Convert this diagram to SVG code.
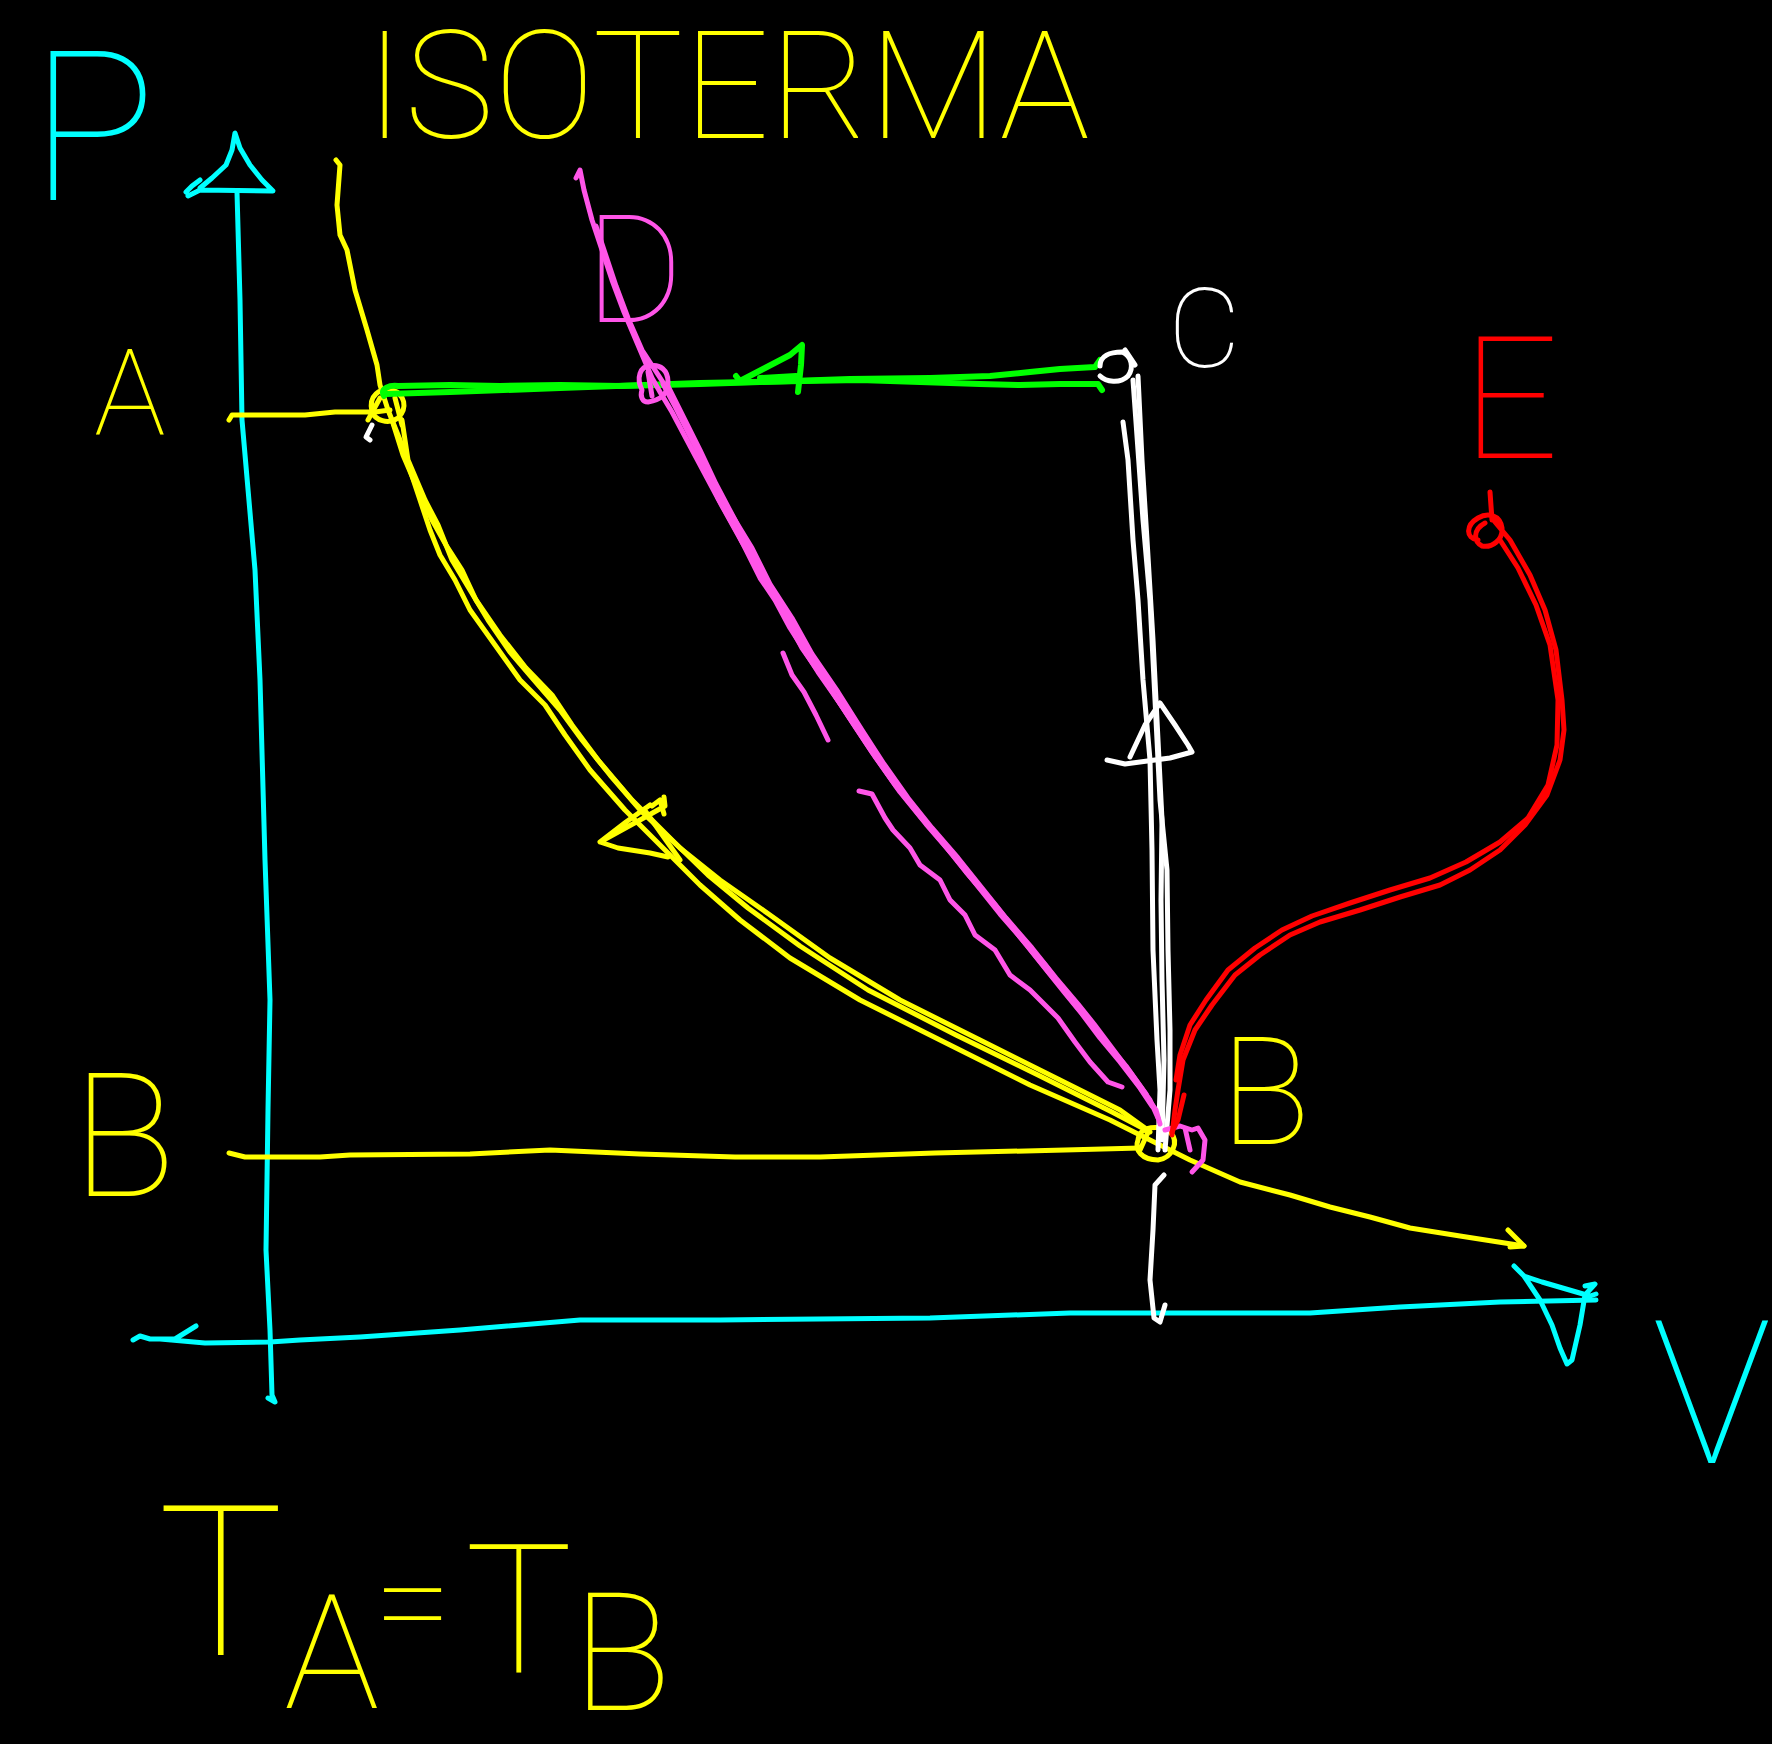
<svg xmlns="http://www.w3.org/2000/svg" width="1772" height="1744" viewBox="0 0 1772 1744">
<style>
.s{fill:none;stroke-linecap:round;stroke-linejoin:round;stroke-width:5}
.cy{stroke:#00ffff}.ye{stroke:#ffff00}.gr{stroke:#00ff00;stroke-width:6}.wh{stroke:#ffffff}.mg{stroke:#ff55e8}.rd{stroke:#ff0000}
.t{font-family:Roboto,"Open Sans","Liberation Sans",sans-serif;font-weight:100}
</style>
<rect width="1772" height="1744" fill="#000"/>
<g id="axes">
<path class="s cy" d="M237,192 L240,300 L242,420 L255,570 L260,680 L265,860 L270,1000 L268,1110 L266,1250 L270,1330 L272,1395 L275,1402 L268,1398"/>
<path class="s cy" d="M186,192 L192,186 L200,180 M188,196 L200,190 L273,191 L262,180 L250,165 L240,148 L235,133 L232,150 L226,165 L212,178 L200,188"/>
<path class="s cy" d="M133,1340 L140,1336 L150,1339 L175,1339 L196,1326 M160,1339 L205,1343 L270,1342 L300,1340 L360,1337 L460,1330 L580,1320 L720,1320 L930,1318 L1070,1313 L1310,1313 L1400,1307 L1500,1302 L1596,1300"/>
<path class="s cy" d="M1514,1266 L1524,1276 L1542,1282 L1590,1296 L1596,1294 M1524,1276 L1540,1300 L1552,1325 L1560,1348 L1567,1364 L1572,1360 L1580,1325 L1585,1295 L1595,1284 L1585,1286"/>
</g>
<g id="isotherm">
<path class="s ye" d="M336,160 L340,165 L337,205 L340,235 L347,250 L355,290 L367,330 L377,365 L380,385 L388,410 L400,440 L410,470 L420,500 L430,530 L440,555 L455,580 L470,610 L495,645 L520,680 L545,705 L565,735 L590,770 L625,810 L665,850 L700,885 L740,920 L790,958 L860,1000 L950,1045 L1030,1085 L1110,1120 L1150,1140 L1190,1160 L1240,1182 L1290,1195 L1330,1207 L1370,1217 L1410,1228 L1460,1236 L1524,1246"/>
<path class="s ye" d="M392,420 L403,455 L418,490 L432,520 L446,545 L462,570 L476,600 L500,635 L526,668 L552,695 L572,725 L598,760 L632,800 L672,840 L708,875 L748,908 L800,946 L868,990 L956,1035 L1038,1075 L1112,1112 L1150,1132"/>
<path class="s ye" d="M402,420 L408,460 L425,500 L438,525 L452,560 L470,590 L488,620 L510,652 L534,680 L560,710 L582,740 L610,775 L642,812 L680,848 L720,880 L770,915 L830,958 L900,1000 L980,1040 L1060,1080 L1120,1110 L1145,1128"/>
<path class="s ye" d="M1508,1230 L1524,1246 L1510,1247"/>
<path class="s ye" d="M650,805 L626,822 L600,842 L618,848 L650,853 L668,857 M600,842 L640,820 L665,806 L664,797 M652,806 L660,800 L664,814 M646,812 L680,860"/>
<path class="s ye" d="M372,412 C368,395 380,388 392,390 C405,394 408,408 398,418 C388,425 375,420 372,412 Z M380,398 L368,420 M395,398 L402,425"/>
<path class="s wh" d="M372,425 L366,437 L370,440"/>
<path class="s ye" d="M229,420 L232,415 L305,415 L335,412 L375,412 L390,410"/>
<path class="s ye" d="M229,1153 L245,1157 L320,1157 L350,1155 L470,1154 L550,1150 L640,1154 L735,1157 L820,1157 L935,1153 L1065,1150 L1140,1148"/>
<path class="s ye" d="M1138,1140 C1140,1125 1160,1125 1170,1132 C1180,1142 1172,1158 1158,1160 C1142,1160 1134,1150 1138,1140 Z M1150,1128 L1140,1150"/>
</g>
<g id="green">
<path class="s gr" d="M384,396 C380,388 390,385 398,386 L450,385 L500,386 L560,385 L620,386 L700,384 L760,382 L850,379 L930,378 L990,376 L1030,372 L1060,369 L1095,367 L1100,360"/>
<path class="s gr" d="M386,394 L450,392 L560,388 L700,383 L860,380 L980,384 L1020,385 L1060,384 L1098,384 L1102,390"/>
<path class="s gr" d="M740,381 L765,368 L790,355 L802,345 L801,365 L798,392 M740,381 L736,376 M760,378 L796,376"/>
</g>
<g id="white">
<path class="s wh" d="M1100,366 C1100,356 1110,352 1122,352 C1132,356 1134,368 1128,376 C1120,384 1106,382 1100,376"/>
<path class="s wh" d="M1125,350 L1135,365"/>
<path class="s wh" d="M1123,422 L1128,460 L1133,540 L1138,600 L1143,680 L1150,760 L1152,850 L1153,950 L1157,1040 L1160,1090 L1158,1150"/>
<path class="s wh" d="M1133,380 L1138,450 L1143,520 L1150,600 L1155,700 L1160,800 L1167,870 L1168,950 L1170,1030 L1170,1090 L1165,1150"/>
<path class="s wh" d="M1138,376 L1142,460 L1147,540 L1153,640 L1157,720 L1162,820 L1161,900 L1162,980 L1164,1060 L1162,1140"/>
<path class="s wh" d="M1130,757 L1145,725 L1160,703 L1175,725 L1188,745 L1192,752 L1170,758 L1125,764 L1107,760"/>
<path class="s wh" d="M1164,1175 L1155,1185 L1153,1230 L1150,1280 L1154,1318 L1160,1322 L1165,1305"/>
</g>
<g id="magenta">
<path class="s mg" d="M576,178 L580,170 L584,190 L592,220 L602,250 L612,280 L624,312 L638,345 L652,378 L660,392 L672,412 L690,446 L706,476 L722,506 L742,542 L762,576 L782,610 L802,648 L830,688 L856,728 L876,758 L900,792 L926,824 L952,854 L976,884 L1000,914 L1026,944 L1050,974 L1072,1000 L1088,1020 L1106,1044 L1126,1068 L1142,1090 L1156,1110 L1160,1124"/>
<path class="s mg" d="M596,226 L606,256 L616,286 L628,318 L642,350 L668,390 L680,416 L698,452 L712,482 L730,512 L752,548 L770,584 L792,618 L812,654 L838,692 L862,730 L884,764 L908,798 L932,828 L958,858 L982,888 L1006,918 L1032,948 L1056,978 L1078,1004 L1094,1024 L1112,1048 L1130,1072 L1150,1100 L1158,1118"/>
<path class="s mg" d="M663,384 L676,408 L694,442 L704,466 L718,498 L738,534 L752,562 L760,578 L775,600 L790,628 L818,672 L846,712 L870,748 L892,780 L916,810 L942,842 L966,872 L992,902 L1016,932 L1040,962 L1064,992 L1082,1014 L1100,1038 L1120,1062 L1140,1088 L1152,1106"/>
<path class="s mg" d="M668,386 L684,418 L700,450 L716,484 L735,520 L750,550 L770,588 L796,632 L822,676 L848,716 L872,752 L896,786 L920,816 L946,846 L970,876 L996,906 L1020,936 L1046,966 L1068,996 L1086,1018 L1106,1042 L1126,1066 L1146,1094"/>
<path class="s mg" d="M783,653 L792,675 L804,692 L816,715 L828,740"/>
<path class="s mg" d="M859,791 L872,794 L885,818 L893,830 L910,848 L920,865 L940,880 L950,900 L965,915 L975,935 L995,950 L1010,975 L1030,990 L1045,1005 L1058,1018 L1075,1042 L1090,1062 L1108,1082 L1122,1087"/>
<path class="s mg" d="M1165,1130 L1180,1126 L1192,1130 L1198,1128 L1205,1140 L1203,1160 L1192,1172 M1185,1128 L1190,1150"/>
<path class="s mg" d="M642,390 C636,378 640,366 650,366 C660,364 668,370 668,382 C668,395 660,400 648,402 C642,402 640,396 642,390 Z M648,372 L652,396"/>
</g>
<g id="red">
<path class="s rd" d="M1490,492 L1492,520 M1478,540 C1465,538 1466,525 1478,518 C1488,512 1500,515 1502,528 C1503,540 1492,548 1482,546 C1474,542 1472,530 1485,523 M1495,522 L1510,540 L1530,575 L1545,610 L1556,650 L1562,700 L1564,730 L1560,760 L1547,795 L1525,825 L1500,850 L1470,870 L1440,885 L1400,897 L1360,910 L1320,922 L1290,935 L1260,955 L1235,975 L1212,1005 L1195,1030 L1183,1060 L1178,1090 L1175,1110 L1172,1135"/>
<path class="s rd" d="M1500,540 L1518,568 L1536,605 L1550,645 L1558,700 L1557,745 L1548,785 L1528,818 L1500,842 L1466,862 L1430,878 L1390,890 L1350,903 L1312,916 L1282,930 L1255,948 L1228,970 L1206,1000 L1190,1025 L1180,1055 L1176,1080"/>
<path class="s rd" d="M1184,1095 L1178,1120 L1172,1132"/>
</g>
<g id="labels">
<text class="t" x="30" y="200" font-size="210" fill="#00ffff">P</text>
<text class="t" x="1652" y="1463" font-size="200" fill="#00ffff">V</text>
<text class="t" x="365" y="138" font-size="150" fill="#ffff00" textLength="725" lengthAdjust="spacingAndGlyphs">ISOTERMA</text>
<text class="t" x="94" y="435" font-size="120" fill="#ffff00">A</text>
<text class="t" x="72" y="1196" font-size="172" fill="#ffff00">B</text>
<text class="t" x="1220" y="1144" font-size="150" fill="#ffff00">B</text>
<text class="t" x="1168" y="367" font-size="112" fill="#ffffff">C</text>
<text class="t" x="585" y="322" font-size="150" fill="#ff55e8">D</text>
<text class="t" x="1462" y="458" font-size="170" fill="#ff0000">E</text>
<text class="t" x="158" y="1655" font-size="210" fill="#ffff00">T</text>
<text class="t" x="284" y="1708" font-size="160" fill="#ffff00">A</text>
<text class="t" x="374" y="1650" font-size="140" fill="#ffff00">=</text>
<text class="t" x="465" y="1672" font-size="180" fill="#ffff00">T</text>
<text class="t" x="572" y="1710" font-size="165" fill="#ffff00">B</text>
</g>
</svg>
